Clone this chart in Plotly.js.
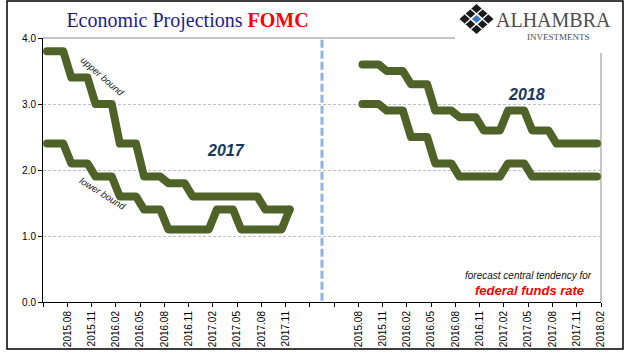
<!DOCTYPE html>
<html>
<head>
<meta charset="utf-8">
<script src="https://cdn.plot.ly/plotly-3.0.1.min.js"></script>
<style>
  html, body { margin: 0; padding: 0; background: #fff; }
  #chart { width: 641px; height: 358px; }
</style>
</head>
<body>
<div id="chart"></div>
<script>
// ---- Data (monthly) ----
const leftLabels = ['2015.08','2015.11','2016.02','2016.05','2016.08','2016.11','2017.02','2017.05','2017.08','2017.11'];
const rightLabels = ['2015.08','2015.11','2016.02','2016.05','2016.08','2016.11','2017.02','2017.05','2017.08','2017.11','2018.02'];

const upper2017 = [3.8,3.8,3.8, 3.4,3.4,3.4, 3.0,3.0,3.0, 2.4,2.4,2.4, 1.9,1.9,1.9, 1.8,1.8,1.8,
                   1.6,1.6,1.6, 1.6,1.6,1.6, 1.6,1.6,1.6, 1.4,1.4,1.4, 1.4];
const lower2017 = [2.4,2.4,2.4, 2.1,2.1,2.1, 1.9,1.9,1.9, 1.6,1.6,1.6, 1.4,1.4,1.4, 1.1,1.1,1.1,
                   1.1,1.1,1.1, 1.4,1.4,1.4, 1.1,1.1,1.1, 1.1,1.1,1.1, 1.4];
const upper2018 = [3.6,3.6,3.6, 3.5,3.5,3.5, 3.3,3.3,3.3, 2.9,2.9,2.9, 2.8,2.8,2.8, 2.6,2.6,2.6,
                   2.9,2.9,2.9, 2.6,2.6,2.6, 2.4,2.4,2.4, 2.4,2.4,2.4];
const lower2018 = [3.0,3.0,3.0, 2.9,2.9,2.9, 2.5,2.5,2.5, 2.1,2.1,2.1, 1.9,1.9,1.9, 1.9,1.9,1.9,
                   2.1,2.1,2.1, 1.9,1.9,1.9, 1.9,1.9,1.9, 1.9,1.9,1.9];

// ---- Axis layout (month slots; a labelled tick every 3 months) ----
const MONTHS_PER_TICK = 3;
const leftStart = 0;          // first month slot of the 2017 panel
const rightStart = 39;        // first month slot of the 2018 panel
const totalSlots = 69;
const dividerAt = 34.5;

const tickText = [''].concat(leftLabels, ['', ''], rightLabels);
const tickVals = tickText.map((_, i) => i * MONTHS_PER_TICK);

function xs(start, arr) { return arr.map((_, i) => start + i + 0.5); }

const GREEN = '#4F6228';
const lineStyle = { color: GREEN, width: 8 };

const traces = [
  { x: xs(leftStart, upper2017), y: upper2017, mode: 'lines', line: lineStyle, hoverinfo: 'skip' },
  { x: xs(leftStart, lower2017), y: lower2017, mode: 'lines', line: lineStyle, hoverinfo: 'skip' },
  { x: xs(rightStart, upper2018), y: upper2018, mode: 'lines', line: lineStyle, hoverinfo: 'skip' },
  { x: xs(rightStart, lower2018), y: lower2018, mode: 'lines', line: lineStyle, hoverinfo: 'skip' }
];

// pixel -> paper helpers (plot area 43..601 x 38..302)
const PL = 43, PR = 601, PT = 38, PB = 302;
const px = x => (x - PL) / (PR - PL);
const py = y => (PB - y) / (PB - PT);
const P = (x, y) => px(x).toFixed(5) + ',' + py(y).toFixed(5);

// logo geometry
const cx = 476.5, cy = 19, hw = 17, hh = 15;
function diamond(w, h) {
  return 'M' + P(cx, cy - h) + ' L' + P(cx + w, cy) + ' L' + P(cx, cy + h) + ' L' + P(cx - w, cy) + ' Z';
}
const latticeLines = [];
[1/3, 2/3].forEach(f => {
  const ax = cx - hw + f * hw, ay = cy - f * hh;
  latticeLines.push('M' + P(ax, ay) + ' L' + P(ax + hw, ay + hh));
  const bx = cx - hw + f * hw, by = cy + f * hh;
  latticeLines.push('M' + P(bx, by) + ' L' + P(bx + hw, by - hh));
});

const shapes = [
  { type: 'line', xref: 'paper', yref: 'paper', x0: 0, x1: 1, y0: 1, y1: 1, line: { color: '#8C8C8C', width: 1 }, layer: 'below' },
  { type: 'line', xref: 'paper', yref: 'paper', x0: 1, x1: 1, y0: 0, y1: 1, line: { color: '#8C8C8C', width: 1 }, layer: 'below' },
  { type: 'line', xref: 'x', yref: 'y', x0: dividerAt, x1: dividerAt, y0: 0.02, y1: 4, line: { color: '#8EB4E3', width: 3, dash: '8px,3px' }, layer: 'below' },
  { type: 'rect', xref: 'paper', yref: 'paper', x0: px(455), x1: px(618), y0: py(53), y1: py(2), fillcolor: '#FFFFFF', line: { width: 0 }, layer: 'above' },
  { type: 'path', xref: 'paper', yref: 'paper', path: diamond(hw, hh), fillcolor: '#1A1A1A', line: { width: 0 }, layer: 'above' },
  { type: 'path', xref: 'paper', yref: 'paper', path: latticeLines.join(' '), line: { color: '#FFFFFF', width: 1.3 }, layer: 'above' },
  { type: 'path', xref: 'paper', yref: 'paper', path: diamond(7, 6.2), fillcolor: '#FFFFFF', line: { width: 0 }, layer: 'above' },
  { type: 'path', xref: 'paper', yref: 'paper', path: diamond(4.6, 4.1), fillcolor: '#3B77C4', line: { width: 0 }, layer: 'above' },
  { type: 'rect', xref: 'paper', yref: 'paper', x0: px(7), x1: px(623), y0: py(349), y1: py(1), line: { color: '#000000', width: 1.5 }, fillcolor: 'rgba(0,0,0,0)', layer: 'above' }
];

const SANS = 'Liberation Sans, Arial, sans-serif';
const SERIF = 'Liberation Serif, Times New Roman, serif';

const annotations = [
  { text: 'upper bound', x: px(103), y: py(76), xref: 'paper', yref: 'paper', showarrow: false, textangle: 41,
    xanchor: 'center', yanchor: 'middle', font: { family: SANS, size: 9.5, style: 'italic', color: '#222' } },
  { text: 'lower bound', x: px(103), y: py(193), xref: 'paper', yref: 'paper', showarrow: false, textangle: 32,
    xanchor: 'center', yanchor: 'middle', font: { family: SANS, size: 9.5, style: 'italic', color: '#222' } },
  { text: '<b><i>2017</i></b>', x: px(226), y: py(150), xref: 'paper', yref: 'paper', showarrow: false,
    xanchor: 'center', yanchor: 'middle', font: { family: SANS, size: 16, color: '#17375E' } },
  { text: '<b><i>2018</i></b>', x: px(526), y: py(94), xref: 'paper', yref: 'paper', showarrow: false,
    xanchor: 'center', yanchor: 'middle', font: { family: SANS, size: 16, color: '#17375E' } },
  { text: '<i>forecast central tendency for</i>', x: px(594), y: py(275), xref: 'paper', yref: 'paper', showarrow: false,
    xanchor: 'right', yanchor: 'middle', font: { family: SANS, size: 10, color: '#111' } },
  { text: '<b><i>federal funds rate</i></b>', x: px(529), y: py(290), xref: 'paper', yref: 'paper', showarrow: false,
    xanchor: 'center', yanchor: 'middle', font: { family: SANS, size: 13, color: '#FF0000' } },
  { text: 'ALHAMBRA', x: px(495), y: py(20), xref: 'paper', yref: 'paper', showarrow: false, borderpad: 0,
    xanchor: 'left', yanchor: 'middle', font: { family: SERIF, size: 20, color: '#4D4D4D' } },
  { text: 'INVESTMENTS', x: px(558), y: py(37), xref: 'paper', yref: 'paper', showarrow: false, borderpad: 0,
    xanchor: 'center', yanchor: 'middle', font: { family: SERIF, size: 9, color: '#4D4D4D' } }
];

const layout = {
  width: 641, height: 358,
  margin: { l: PL, r: 641 - PR, t: PT, b: 358 - PB, pad: 0 },
  paper_bgcolor: '#FFFFFF', plot_bgcolor: '#FFFFFF',
  showlegend: false,
  font: { family: SANS, size: 10, color: '#000' },
  title: {
    text: 'Economic Projections <span style="color:#FF0000"><b>FOMC</b></span>',
    font: { family: SERIF, size: 20, color: '#1C1C8C' },
    x: px(187.5), xref: 'paper', xanchor: 'center',
    y: 1 - 20 / 358, yref: 'container', yanchor: 'middle'
  },
  xaxis: {
    range: [0, totalSlots], type: 'linear',
    tickmode: 'array', tickvals: tickVals, ticktext: tickText,
    tickangle: -90, ticks: 'outside', ticklen: 4, tickcolor: '#000', tickwidth: 1,
    showline: true, linecolor: '#000', linewidth: 1,
    showgrid: false, zeroline: false,
    tickfont: { family: SANS, size: 10, color: '#000' }, fixedrange: true
  },
  yaxis: {
    range: [0, 4], dtick: 1, tick0: 0, tickformat: '.1f',
    ticks: 'outside', ticklen: 4, tickcolor: '#000',
    showline: true, linecolor: '#000', linewidth: 1,
    showgrid: true, gridcolor: '#BFBFBF', griddash: '3px,2px', gridwidth: 1,
    zeroline: false,
    tickfont: { family: SANS, size: 10, color: '#000' }, fixedrange: true
  },
  shapes: shapes,
  annotations: annotations
};

Plotly.newPlot('chart', traces, layout, { displayModeBar: false, staticPlot: true }).then(() => {
  document.querySelectorAll('.scatterlayer .js-line').forEach(p => {
    p.style.strokeLinecap = 'round';
    p.style.strokeLinejoin = 'round';
  });
});
</script>
</body>
</html>
